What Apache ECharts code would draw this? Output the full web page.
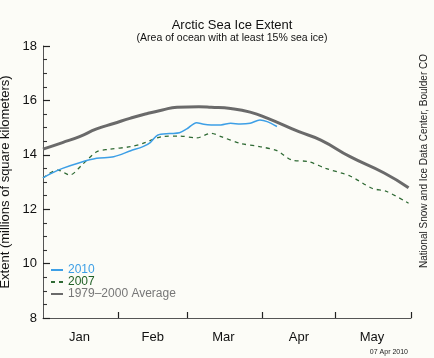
<!DOCTYPE html>
<html><head><meta charset="utf-8">
<script src="https://cdn.jsdelivr.net/npm/echarts@6/dist/echarts.min.js"></script>
<style>html,body{margin:0;padding:0;background:#fcfcf7;}#c{width:434px;height:358px;}</style>
</head><body><div id="c"></div>
<script>
// Day-of-year (0 = Jan 1) for x values
const monthNames = ['Jan', 'Feb', 'Mar', 'Apr', 'May'];
const monthLabelDays = [15, 45, 74, 105, 135];
const monthBoundaryDays = [31, 59, 90, 120, 151];

const avgDays = [0, 8, 15, 22, 29, 36, 42, 49, 55, 64, 69, 77, 85, 92, 105, 114, 126, 140, 150];
const avgValues = [14.21, 14.45, 14.67, 14.95, 15.15, 15.35, 15.5, 15.65, 15.75, 15.77, 15.75, 15.7, 15.57, 15.35, 14.85, 14.54, 13.93, 13.33, 12.79];

const y2010Days = [0, 3, 8, 15, 22, 29, 36, 41, 44, 47, 52, 56, 59, 63, 66, 69, 73, 77, 81, 85, 89, 92, 96];
const y2010Values = [13.15, 13.3, 13.5, 13.71, 13.87, 13.93, 14.15, 14.3, 14.45, 14.72, 14.78, 14.81, 14.95, 15.18, 15.12, 15.1, 15.1, 15.16, 15.13, 15.16, 15.28, 15.22, 15.04];

const y2007Days = [0, 6, 11, 16, 22, 27, 36, 41, 49, 56, 63, 69, 73, 81, 89, 96, 102, 109, 116, 126, 135, 141, 150];
const y2007Values = [13.15, 13.44, 13.26, 13.63, 14.11, 14.2, 14.3, 14.42, 14.67, 14.69, 14.62, 14.79, 14.67, 14.42, 14.3, 14.15, 13.81, 13.75, 13.5, 13.22, 12.77, 12.65, 12.22];

const yTicks = [8, 10, 12, 14, 16, 18];

const pair = (d, v) => d.map((x, i) => [x, v[i]]);

const chart = echarts.init(document.getElementById('c'));
const font = 'Liberation Sans, Arial, Helvetica, sans-serif';
chart.setOption({
  backgroundColor: '#fcfcf7',
  animation: false,
  title: {
    text: 'Arctic Sea Ice Extent',
    subtext: '(Area of ocean with at least 15% sea ice)',
    left: 227, top: 14, textAlign: 'center', itemGap: 1,
    textStyle: {fontFamily: font, fontSize: 13, fontWeight: 'normal', color: '#111'},
    subtextStyle: {fontFamily: font, fontSize: 10.5, color: '#111'}
  },
  grid: {left: 43, right: 23, top: 46, bottom: 40, containLabel: false, outerBoundsMode: 'none'},
  legend: {
    orient: 'vertical', left: 50, top: 264, itemWidth: 12, itemHeight: 8, itemGap: 0, padding: 0,
    itemStyle: {color: 'rgba(0,0,0,0)', borderColor: 'rgba(0,0,0,0)', borderWidth: 0},
    textStyle: {fontFamily: font, fontSize: 12, lineHeight: 12},
    data: [
      {name: '2010', textStyle: {color: '#3d9fe6'}},
      {name: '2007', textStyle: {color: '#1f5f24'}},
      {name: '1979–2000 Average', textStyle: {color: '#777'}}
    ]
  },
  xAxis: {
    type: 'value', min: 0, max: 151,
    axisLine: {show: true, lineStyle: {color: '#555', width: 1}},
    axisTick: {show: true, inside: true, length: 6, customValues: monthBoundaryDays,
      lineStyle: {color: '#222', width: 1.2}},
    axisLabel: {customValues: monthLabelDays,
      formatter: (v) => monthNames[monthLabelDays.indexOf(Math.round(v))] || '',
      fontFamily: font, fontSize: 13, color: '#111', margin: 13},
    splitLine: {show: false}
  },
  yAxis: {
    type: 'value', min: 8, max: 18, interval: 2,
    name: 'Extent (millions of square kilometers)', nameLocation: 'middle', nameGap: 20,
    nameTextStyle: {fontFamily: font, fontSize: 13, color: '#111'},
    axisLine: {show: true, lineStyle: {color: '#555', width: 1}},
    axisTick: {show: true, inside: true, length: 7, lineStyle: {color: '#222', width: 1.2}},
    minorTick: {show: true, splitNumber: 4, length: 4, lineStyle: {color: '#333', width: 1.1}},
    axisLabel: {fontFamily: font, fontSize: 13, color: '#111', margin: 6,
      formatter: (v) => yTicks.indexOf(v) >= 0 ? String(v) : ''},
    splitLine: {show: false}
  },
  series: [
    {name: '2010', type: 'line', data: pair(y2010Days, y2010Values), showSymbol: false, symbol: 'none', smooth: 0.3,
      lineStyle: {color: '#3d9fe6', width: 1.5}, itemStyle: {color: '#3d9fe6'}, z: 4},
    {name: '2007', type: 'line', data: pair(y2007Days, y2007Values), showSymbol: false, symbol: 'none', smooth: 0.3,
      lineStyle: {color: '#2f6a34', width: 1.3, type: [4, 4]}, itemStyle: {color: '#2f6a34'}, z: 3},
    {name: '1979–2000 Average', type: 'line', data: pair(avgDays, avgValues), showSymbol: false, symbol: 'none', smooth: 0.5,
      lineStyle: {color: '#6a6a6a', width: 3}, itemStyle: {color: '#6a6a6a'}, z: 2}
  ],
  graphic: [
    {type: 'text', x: 424, y: 161, rotation: Math.PI / 2,
      style: {text: 'National Snow and Ice Data Center, Boulder CO', font: '10px ' + font, fill: '#222',
        textAlign: 'center', textVerticalAlign: 'middle'}},
    {type: 'text', x: 408, y: 352, style: {text: '07 Apr 2010', font: '7px ' + font, fill: '#222',
      textAlign: 'right', textVerticalAlign: 'middle'}}
  ]
});
</script></body></html>
